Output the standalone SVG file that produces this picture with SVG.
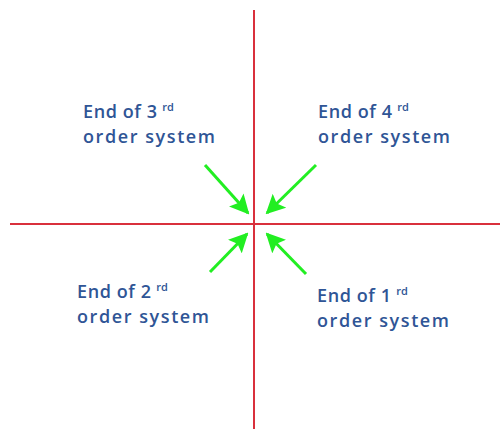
<svg xmlns="http://www.w3.org/2000/svg" width="502" height="429" viewBox="0 0 502 429">
<style>
.axis{stroke:#d9303c;stroke-width:2;fill:none}
.arr{stroke:#22ee22;stroke-width:3;fill:none}
.lbl{font-family:"Open Sans","DejaVu Sans",sans-serif;font-size:18px;font-weight:600;fill:#2f5596}
.sup{font-size:11px}
</style>
<defs>
<marker id="ah" viewBox="0 0 10 10" refX="9" refY="5" markerWidth="6.5" markerHeight="6.5" orient="auto" markerUnits="strokeWidth">
<path d="M0,0 L10,5 L0,10 L2,5 z" fill="#22ee22"/>
</marker>
</defs>
<rect width="502" height="429" fill="#fff"/>
<g id="axes">
<line class="axis" x1="254" y1="10" x2="254" y2="429"/>
<line class="axis" x1="10" y1="224" x2="500" y2="224"/>
</g>
<g id="connectors">
<line class="arr" x1="205" y1="165" x2="248" y2="213" marker-end="url(#ah)"/>
<line class="arr" x1="316" y1="165" x2="267" y2="213" marker-end="url(#ah)"/>
<line class="arr" x1="210" y1="272" x2="247" y2="234" marker-end="url(#ah)"/>
<line class="arr" x1="306" y1="274" x2="267" y2="234" marker-end="url(#ah)"/>
</g>
<g id="n3"><text class="lbl" x="83" y="118"><tspan textLength="74">End of 3</tspan> <tspan class="sup" dy="-7">rd</tspan></text><text class="lbl" x="83" y="143" textLength="132">order system</text></g>
<g id="n4"><text class="lbl" x="318" y="118"><tspan textLength="74">End of 4</tspan> <tspan class="sup" dy="-7">rd</tspan></text><text class="lbl" x="318" y="143" textLength="132">order system</text></g>
<g id="n2"><text class="lbl" x="77" y="298"><tspan textLength="74">End of 2</tspan> <tspan class="sup" dy="-7">rd</tspan></text><text class="lbl" x="77" y="323" textLength="132">order system</text></g>
<g id="n1"><text class="lbl" x="317" y="302"><tspan textLength="74">End of 1</tspan> <tspan class="sup" dy="-7">rd</tspan></text><text class="lbl" x="317" y="327" textLength="132">order system</text></g>
</svg>
